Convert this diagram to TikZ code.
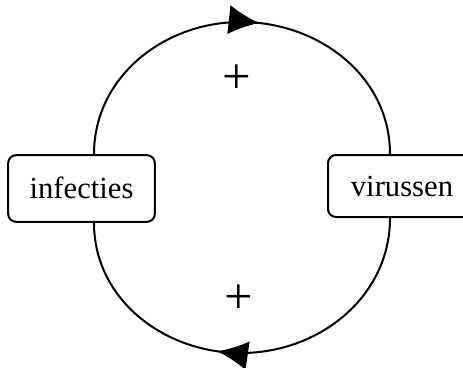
\documentclass[tikz,border=0pt]{standalone}
\usepackage{fontspec}
\setmainfont{Liberation Serif}
\usetikzlibrary{arrows.meta, decorations.markings, positioning}

\tikzset{
  blok/.style={draw, line width=1.5pt, rounded corners=6pt, inner sep=0pt,
    text height=15.5pt, text depth=0pt, font=\fontsize{23}{27}\selectfont},
  lus/.style={line width=1.5pt, postaction={decorate},
    decoration={markings, mark=at position #1 with {\arrow{Latex[length=23pt,width=22pt]}}}},
  teken/.style={inner sep=0pt, font=\fontsize{38}{40}\selectfont}
}

\begin{document}
\begin{tikzpicture}[x=0.75pt, y=-0.75pt]
				\useasboundingbox (0,0) rectangle (463,367);
				%% de twee blokken
				\node[blok, minimum width=110pt, minimum height=50pt] (infecties) at (81.5,188.5) {infecties};
				\node[blok, minimum width=111pt, minimum height=46.5pt] (virussen) at (402,186) {virussen};
				\coordinate (boven) at (241,22);
				\coordinate (onder) at (241,353);
				%% de lus
				\draw[lus=0.54] (infecties.north -| 94,0) to[out=90, in=180] (boven) to[out=0, in=90] (virussen.north -| 390,0);
				\draw[lus=0.56] (virussen.south -| 390,0) to[out=-90, in=0] (onder) to[out=180, in=-90] (infecties.south -| 94,0);
				\node[teken] (plusboven) at (237,79) {+};
				\node[teken] (plusonder) at (239,299) {+};
\end{tikzpicture}
\end{document}
